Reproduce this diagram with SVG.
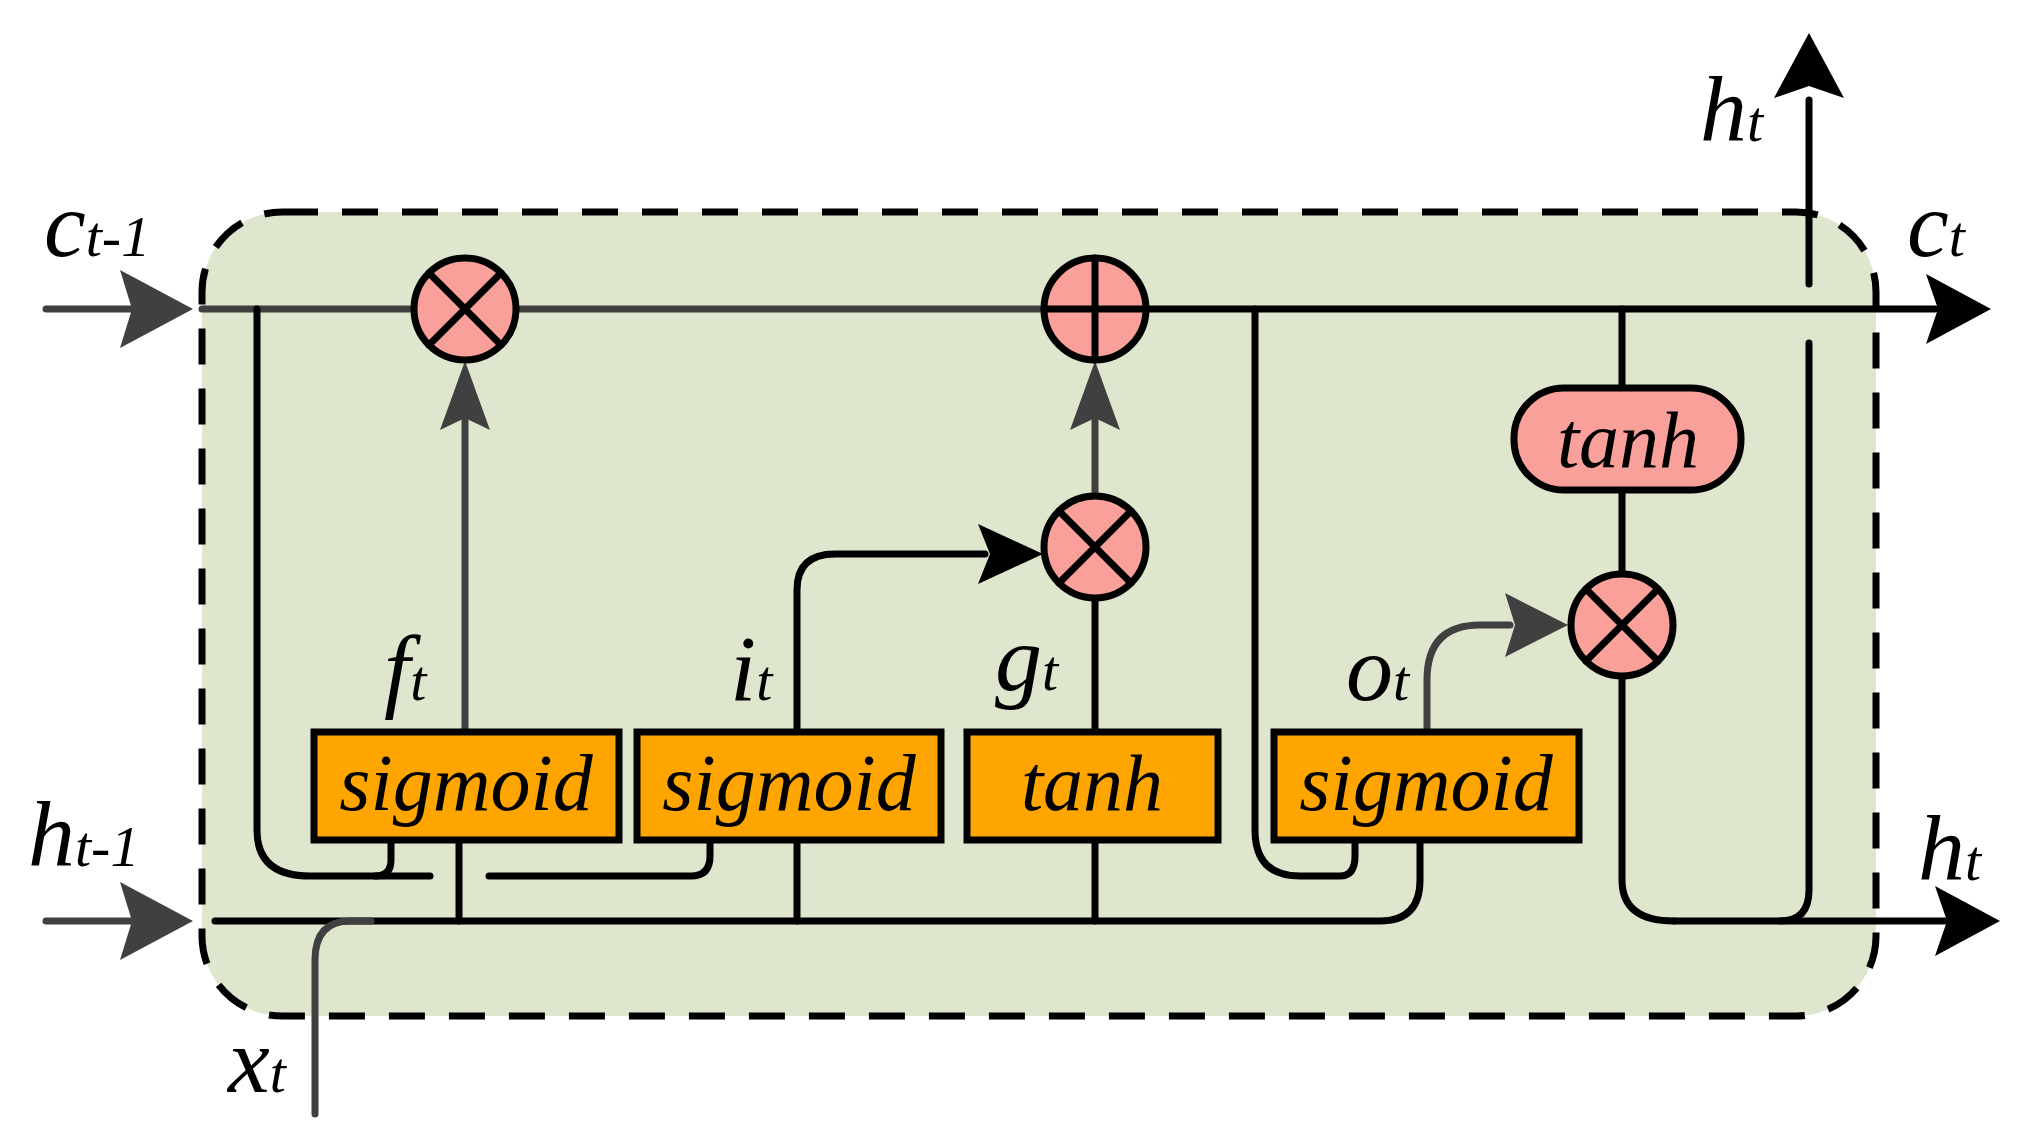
<svg xmlns="http://www.w3.org/2000/svg" width="2042" height="1121" viewBox="0 0 2042 1121">
<defs>
<style>
.k{fill:none;stroke:#000;stroke-width:7;stroke-linecap:round}
.g{fill:none;stroke:#404040;stroke-width:7;stroke-linecap:round}
.box{fill:#FFA500;stroke:#000;stroke-width:7}
.op{fill:#F9A09A;stroke:#000;stroke-width:7}
.t{font-family:"Liberation Serif",serif;font-style:italic;fill:#000}
.bt{font-size:80px;text-anchor:middle}
.lb{font-size:94px}
.sb{font-size:58px}
</style>
</defs>
<rect x="202" y="212" width="1674" height="804" rx="80" fill="#DFE6CE" stroke="#000" stroke-width="7" stroke-dasharray="36,24"/>
<g id="connectors">
<path class="g" d="M46,309 H160" stroke-width="9"/><path d="M193,309 L120,270 L132,309 L120,348 Z" fill="#404040"/>
<path class="g" d="M46,921 H160" stroke-width="9"/><path d="M193,921 L120,882 L132,921 L120,960 Z" fill="#404040"/>
<path class="g" d="M202,309 H1043"/>
<path class="k" d="M1147,309 H1935"/><path d="M1991,309 L1926,274 L1938,309 L1926,344 Z"/>
<path class="k" d="M215,921 H1380 Q1420,921 1420,880 V840"/>
<path class="k" d="M1674,921 H1945"/><path d="M2000,921 L1935,886 L1947,921 L1935,956 Z"/>
<path class="k" d="M1622,309 V388 M1622,490 V573 M1622,677 V880 Q1622,921 1674,921"/>
<path class="k" d="M1809,343 V890 Q1809,921 1780,921"/>
<path class="k" d="M1809,284 V100"/><path d="M1809,33 L1774,98 L1809,86 L1844,98 Z"/>
<path class="k" d="M257,309 V830 Q257,876 310,876 H430"/>
<path class="k" d="M391,840 V860 Q391,876 375,876"/>
<path class="k" d="M489,876 H691 Q710,876 710,856 V840"/>
<path class="k" d="M1255,309 V830 Q1255,876 1300,876 H1340 Q1355,876 1355,856 V840"/>
<path class="k" d="M459,840 V921 M797,840 V921 M1095,840 V921"/>
<path class="g" d="M465,732 V420"/><path d="M465,361 L440,430 L465,418 L490,430 Z" fill="#404040"/>
<path class="k" d="M797,732 V590 Q797,554 835,554 H985"/><path d="M1043,554 L978,524 L990,554 L978,584 Z"/>
<path class="k" d="M1095,732 V599"/>
<path class="g" d="M1095,495 V420"/><path d="M1095,361 L1070,430 L1095,418 L1120,430 Z" fill="#404040"/>
<path class="g" d="M1427,732 V680 Q1427,625 1480,625 H1510" stroke-width="9"/><path d="M1568,625 L1505,593 L1515,625 L1505,657 Z" fill="#404040"/>
<path class="g" d="M315,1114 V960 Q315,921 350,921 H371"/>
</g>
<g id="mult1"><circle class="op" cx="465" cy="309" r="51"/><path class="k" d="M429,273 L501,345 M501,273 L429,345"/></g>
<g id="plus"><circle class="op" cx="1095" cy="309" r="51"/><path class="k" d="M1044,309 H1146 M1095,258 V360"/></g>
<g id="mult2"><circle class="op" cx="1095" cy="547" r="51"/><path class="k" d="M1059,511 L1131,583 M1131,511 L1059,583"/></g>
<g id="mult3"><circle class="op" cx="1622" cy="625" r="51"/><path class="k" d="M1586,589 L1658,661 M1658,589 L1586,661"/></g>
<g id="tanhc"><rect class="op" x="1514" y="388" width="227" height="102" rx="50"/><text class="t bt" x="1628" y="467">tanh</text></g>
<g id="b1"><rect class="box" x="314" y="732" width="305" height="108"/><text class="t bt" x="466" y="810">sigmoid</text></g>
<g id="b2"><rect class="box" x="637" y="732" width="304" height="108"/><text class="t bt" x="789" y="810">sigmoid</text></g>
<g id="b3"><rect class="box" x="967" y="732" width="251" height="108"/><text class="t bt" x="1092" y="810">tanh</text></g>
<g id="b4"><rect class="box" x="1274" y="732" width="305" height="108"/><text class="t bt" x="1426" y="810">sigmoid</text></g>
<g id="labels">
<text class="t lb" x="44" y="256">c<tspan class="sb">t-1</tspan></text>
<text class="t lb" x="1907" y="256">c<tspan class="sb">t</tspan></text>
<text class="t lb" x="1700" y="141">h<tspan class="sb">t</tspan></text>
<text class="t lb" x="28" y="866">h<tspan class="sb">t-1</tspan></text>
<text class="t lb" x="1918" y="880">h<tspan class="sb">t</tspan></text>
<text class="t lb" x="228" y="1092">x<tspan class="sb">t</tspan></text>
<text class="t lb" x="384" y="700">f<tspan class="sb">t</tspan></text>
<text class="t lb" x="730" y="700">i<tspan class="sb">t</tspan></text>
<text class="t lb" x="995" y="690">g<tspan class="sb">t</tspan></text>
<text class="t lb" x="1346" y="700">o<tspan class="sb">t</tspan></text>
</g>
</svg>
